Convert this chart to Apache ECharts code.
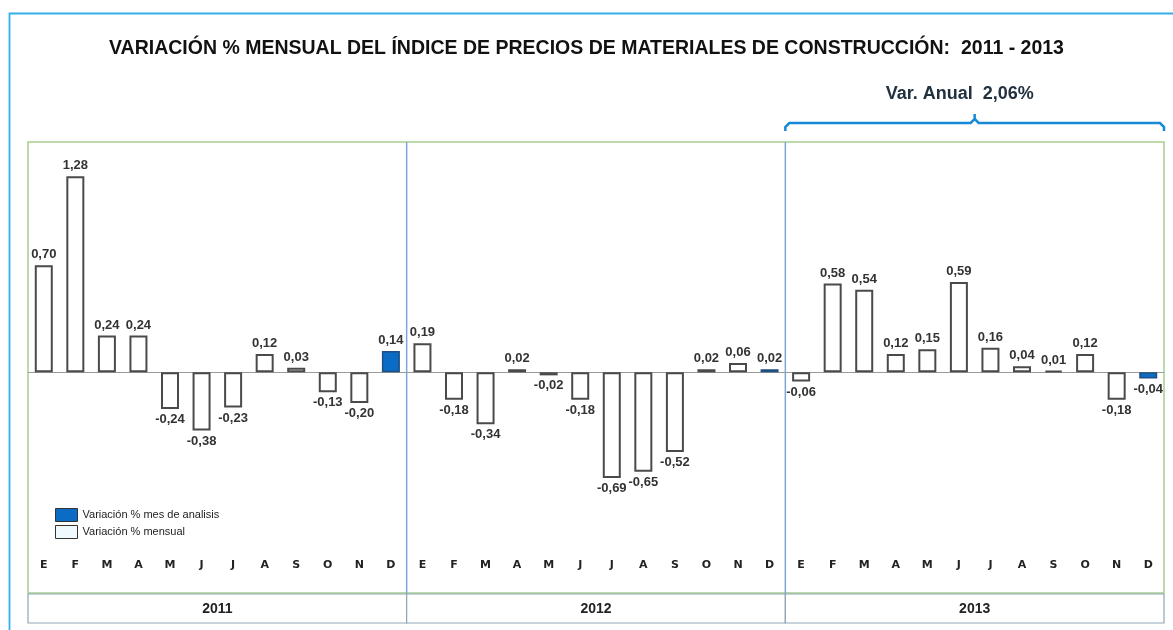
<!DOCTYPE html>
<html><head><meta charset="utf-8">
<script src="https://cdn.jsdelivr.net/npm/echarts@6/dist/echarts.min.js"></script>
<style>html,body{margin:0;padding:0;background:#fff}#c{width:1173px;height:630px}</style>
</head><body><div id="c"></div>
<script>
const months = ['E','F','M','A','M','J','J','A','S','O','N','D'];
const years = ['2011','2012','2013'];
const v2011 = [0.70,1.28,0.24,0.24,-0.24,-0.38,-0.23,0.12,0.03,-0.13,-0.20,0.14];
const v2012 = [0.19,-0.18,-0.34,0.02,-0.02,-0.18,-0.69,-0.65,-0.52,0.02,0.06,0.02];
const v2013 = [-0.06,0.58,0.54,0.12,0.15,0.59,0.16,0.04,0.01,0.12,-0.18,-0.04];
const highlightIdx = [11, 23, 35];
const annualText = 'Var. Anual  2,06%';
const titleText = 'VARIACIÓN % MENSUAL DEL ÍNDICE DE PRECIOS DE MATERIALES DE CONSTRUCCIÓN:  2011 - 2013';
const legendNames = ['Variación % mes de analisis','Variación % mensual'];

const cats = [].concat(months, months, months);
const all = [].concat(v2011, v2012, v2013);
const normal = all.map((v,i)=> highlightIdx.includes(i) ? '-' : v);
const hi = all.map((v,i)=> highlightIdx.includes(i) ? v : '-');

const chart = echarts.init(document.getElementById('c'));
const L = 28, R = 1164, T = 142, B = 593;
const fmt = p => p.value.toFixed(2).replace('.', ',');
const lbl = {show:true, formatter:fmt, fontFamily:'Liberation Sans, Arial', fontWeight:'bold', fontSize:13, color:'#333', distance:4};

function mkData(arr){ return arr.map(v => v === '-' ? '-' : {value:v, label:{position: v<0?'bottom':'top'}}); }

const option = {
  animation:false,
  backgroundColor:'#fff',
  title:{text:titleText, left:'center', top:34, textStyle:{fontFamily:'Liberation Sans, Arial', fontWeight:'bold', fontSize:19.5, color:'#111'}},
  legend:{orient:'vertical', left:50, top:503, itemWidth:22, itemHeight:13, itemGap:3, selectedMode:false, icon:'rect',
    textStyle:{fontFamily:'Liberation Sans, Arial', fontSize:11, color:'#222'},
    data:[{name:legendNames[0], itemStyle:{color:'#0a6cc4', borderColor:'#333', borderWidth:1}},
          {name:legendNames[1], itemStyle:{color:'#eefafd', borderColor:'#333', borderWidth:1}}]},
  grid:{left:L, right:1173-R, top:158, bottom:74},
  xAxis:{type:'category', data:cats, position:'bottom', axisLine:{show:false, onZero:false}, axisTick:{show:false},
     axisLabel:{interval:0, margin:4, fontFamily:'DejaVu Sans, Arial', fontWeight:'bold', fontSize:11, color:'#222'}},
  yAxis:{type:'value', min:-1.2, max:1.4, show:false, splitLine:{show:false}},
  series:[
    {name:legendNames[1], type:'bar', data:mkData(normal), barWidth:18, barGap:'-100%', z:3,
     itemStyle:{color:'#fff', borderColor:'#4a4a4a', borderWidth:2}, label:lbl,
     markLine:{silent:true, symbol:'none', z:1, label:{show:false}, lineStyle:{color:'#9a9a9a', width:1.2, type:'solid'}, data:[{yAxis:0}]}},
    {name:legendNames[0], type:'bar', data:mkData(hi), barWidth:18, barGap:'-100%', z:3,
     itemStyle:{color:'#0a6cc4', borderColor:'#1e4f80', borderWidth:1.5}, label:lbl}
  ],
  graphic:[]
};
chart.setOption(option);

const x0 = chart.convertToPixel({xAxisIndex:0}, 0);
const step = chart.convertToPixel({xAxisIndex:0}, 1) - x0;
const sepX = [L + step*12, L + step*24];
const g = [];
g.push({type:'rect', shape:{x:9.5, y:13.5, width:1200, height:700}, style:{fill:null, stroke:'#35aee8', lineWidth:1.8}, silent:true});
g.push({type:'rect', shape:{x:L, y:T, width:R-L, height:B-T}, style:{fill:null, stroke:'#a6cf8c', lineWidth:1.5}, silent:true});
sepX.forEach(x => g.push({type:'line', shape:{x1:x, y1:T, x2:x, y2:623}, style:{stroke:'#7fa7d9', lineWidth:1.5}, silent:true}));
years.forEach((y,i) => {
  const xa = L + step*12*i, xb = L + step*12*(i+1);
  g.push({type:'rect', shape:{x:xa, y:B+1, width:xb-xa, height:29}, style:{fill:'#fff', stroke:'#8fa5b5', lineWidth:1.2}, silent:true});
  g.push({type:'text', x:(xa+xb)/2, y:B+16, style:{text:y, align:'center', verticalAlign:'middle', font:'bold 14px Liberation Sans, Arial', fill:'#222'}, silent:true});
});
const bx1 = sepX[1], bx2 = R, by = 123, mid = (bx1+bx2)/2;
g.push({type:'polyline', shape:{points:[[bx1,131],[bx1,by+4],[bx1+4,by],[mid-4,by],[mid,by-4],[mid,by-9]]}, style:{stroke:'#1889d6', lineWidth:2.5, fill:null}, silent:true});
g.push({type:'polyline', shape:{points:[[mid,by-4],[mid+4,by],[bx2-4,by],[bx2,by+4],[bx2,131]]}, style:{stroke:'#1889d6', lineWidth:2.5, fill:null}, silent:true});
g.push({type:'text', x:mid-15, y:94, style:{text:annualText, align:'center', verticalAlign:'middle', font:'bold 18px Liberation Sans, Arial', fill:'#22313f'}, silent:true});
chart.setOption({graphic:g});
</script></body></html>
